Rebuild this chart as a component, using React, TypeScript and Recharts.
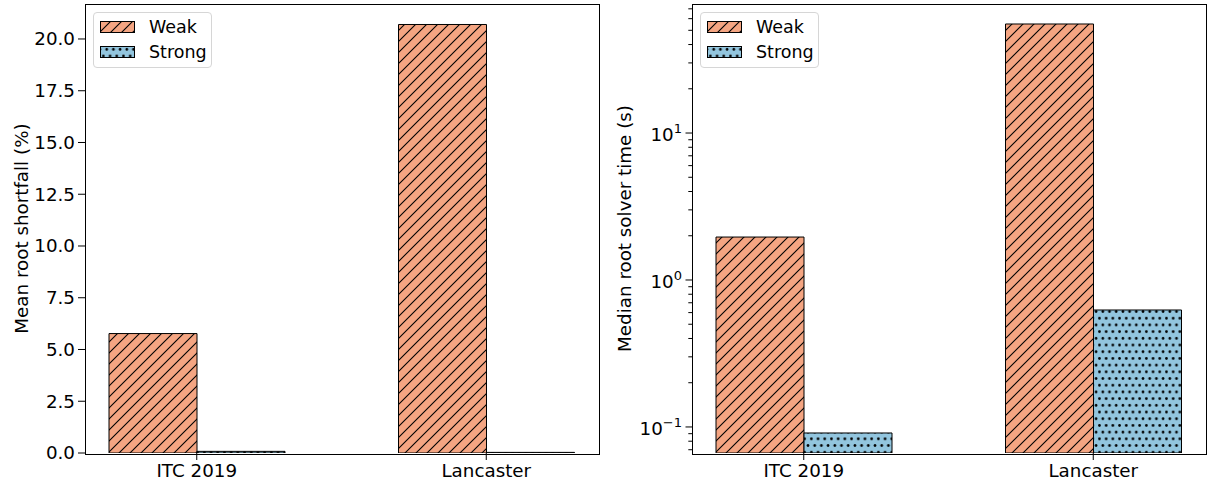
import React from "react";
import { BarChart, Bar, XAxis, YAxis, Legend } from "recharts";

// values
const categories = ["ITC 2019", "Lancaster"];
const seriesNames = ["Weak", "Strong"];
const shortfallWeak = [5.77, 20.7];
const shortfallStrong = [0.08, 0.03];
const solverWeak = [1.96, 55.2];
const solverStrong = [0.091, 0.625];
const shortfallTicks = [0, 2.5, 5, 7.5, 10, 12.5, 15, 17.5, 20];
const solverMajorTicks = [0.1, 1, 10];
const solverMinorTicks = [
  0.07, 0.08, 0.09, 0.2, 0.3, 0.4, 0.5, 0.6, 0.7, 0.8, 0.9,
  2, 3, 4, 5, 6, 7, 8, 9, 20, 30, 40, 50, 60, 70,
];

const WEAK = "#f4a582";
const STRONG = "#92c5de";
const FONT = "DejaVu Sans";
const TICK_FONT = 18.3;
const LEGEND_FONT = 17.5;

const shortfallData = categories.map((name, i) => ({
  name,
  weak: shortfallWeak[i],
  strong: shortfallStrong[i],
}));
const solverData = categories.map((name, i) => ({
  name,
  weak: solverWeak[i],
  strong: solverStrong[i],
}));

const Patterns = ({ id }: { id: string }) => (
  <defs>
    <pattern id={`hatch-${id}`} patternUnits="userSpaceOnUse" width={11} height={11}>
      <rect width={11} height={11} fill={WEAK} />
      <path
        d="M0,11 L11,0 M-2.75,2.75 L2.75,-2.75 M8.25,13.75 L13.75,8.25"
        stroke="#000"
        strokeWidth={1.1}
      />
    </pattern>
    <pattern id={`dots-${id}`} patternUnits="userSpaceOnUse" width={13.4} height={13.4}>
      <rect width={13.4} height={13.4} fill={STRONG} />
      <circle cx={0} cy={3.35} r={1.35} fill="#000" />
      <circle cx={6.7} cy={3.35} r={1.35} fill="#000" />
      <circle cx={13.4} cy={3.35} r={1.35} fill="#000" />
      <circle cx={3.35} cy={10.05} r={1.35} fill="#000" />
      <circle cx={10.05} cy={10.05} r={1.35} fill="#000" />
    </pattern>
  </defs>
);

const Swatch = ({ kind, id }: { kind: "hatch" | "dots"; id: string }) => (
  <svg width={35} height={12} style={{ display: "block" }}>
    <Patterns id={id} />
    <rect x={0.5} y={0.5} width={34} height={11} fill={`url(#${kind}-${id})`} stroke="#000" />
  </svg>
);

const LegendBox = ({ id }: { id: string }) => (
  <div
    style={{
      width: 119,
      height: 56,
      boxSizing: "border-box",
      border: "1px solid #d6d6d6",
      borderRadius: 4,
      background: "rgba(255,255,255,0.8)",
      fontFamily: FONT,
      fontSize: LEGEND_FONT,
      color: "#000",
      padding: "1px 0 0 6px",
    }}
  >
    {seriesNames.map((s, i) => (
      <div key={s} style={{ display: "flex", alignItems: "center", height: 25 }}>
        <Swatch kind={i === 0 ? "hatch" : "dots"} id={`${id}-lg${i}`} />
        <span style={{ marginLeft: 14, lineHeight: "20px" }}>{s}</span>
      </div>
    ))}
  </div>
);

const axisLabel = (text: string, x: number) => () => (
  <text
    x={x}
    y={228.5}
    transform={`rotate(-90, ${x}, 228.5)`}
    textAnchor="middle"
    fontFamily={FONT}
    fontSize={TICK_FONT}
    fill="#000"
  >
    {text}
  </text>
);

const superDigits: Record<string, string> = { "-1": "\u22121", "0": "0", "1": "1" };

const LogTick = (props: any) => {
  const { x, y, payload } = props;
  const v = payload.value as number;
  const major = solverMajorTicks.includes(v);
  const len = major ? 6.5 : 3.7;
  const exp = String(Math.round(Math.log10(v)));
  return (
    <g>
      <line x1={x} x2={x - len} y1={y} y2={y} stroke="#000" strokeWidth={1} />
      {major && (
        <text x={x - 10} y={y} dy="0.45em" textAnchor="end" fontFamily={FONT} fontSize={TICK_FONT} fill="#000">
          10
          <tspan dy={-8} fontSize={13}>{superDigits[exp]}</tspan>
        </text>
      )}
    </g>
  );
};

const frameStyle: React.CSSProperties = {
  position: "absolute",
  left: 84.5,
  top: 3.5,
  width: 513,
  height: 449,
  border: "1px solid #000",
  pointerEvents: "none",
};

const xAxisProps = {
  dataKey: "name",
  height: 33,
  padding: { left: -33, right: -33 },
  tickSize: 7,
  tickMargin: 4,
  axisLine: false,
  tickLine: { stroke: "#000" },
  tick: { fill: "#000", fontSize: TICK_FONT, fontFamily: FONT },
  interval: 0 as const,
};

export default function App() {
  return (
    <div style={{ position: "absolute", left: 0, top: 0, width: 1207, height: 486, background: "#fff" }}>
      <div style={{ position: "absolute", left: 0, top: 0, width: 600, height: 486 }}>
        <BarChart
          width={600}
          height={486}
          data={shortfallData}
          margin={{ top: 4, right: 2, bottom: 0, left: 0 }}
          barGap={0}
        >
          <Patterns id="a" />
          <XAxis {...xAxisProps} />
          <YAxis
            width={85}
            domain={[0, 21.69]}
            allowDataOverflow
            ticks={shortfallTicks}
            interval={0}
            tickFormatter={(v: number) => v.toFixed(1)}
            tickSize={7}
            tickMargin={3}
            axisLine={false}
            tickLine={{ stroke: "#000" }}
            tick={{ fill: "#000", fontSize: TICK_FONT, fontFamily: FONT }}
            label={{ content: axisLabel("Mean root shortfall (%)", 28) }}
          />
          <Legend
            content={() => <LegendBox id="a" />}
            layout="horizontal"
            verticalAlign="middle"
            align="center"
            wrapperStyle={{ left: 93, top: 12, width: 119, height: 56 }}
          />
          <Bar dataKey="weak" name="Weak" fill="url(#hatch-a)" stroke="#000" strokeWidth={1} barSize={88} isAnimationActive={false} />
          <Bar dataKey="strong" name="Strong" fill="url(#dots-a)" stroke="#000" strokeWidth={1} barSize={88} isAnimationActive={false} />
        </BarChart>
        <div style={frameStyle} />
      </div>
      <div style={{ position: "absolute", left: 607, top: 0, width: 600, height: 486 }}>
        <BarChart
          width={600}
          height={486}
          data={solverData}
          margin={{ top: 4, right: 2, bottom: 0, left: 0 }}
          barGap={0}
        >
          <Patterns id="b" />
          <XAxis {...xAxisProps} />
          <YAxis
            width={85}
            scale="log"
            domain={[0.0665, 75.5]}
            allowDataOverflow
            ticks={[...solverMinorTicks, ...solverMajorTicks].sort((p, q) => p - q)}
            interval={0}
            tickSize={0}
            tickMargin={0}
            axisLine={false}
            tickLine={false}
            tick={<LogTick />}
            label={{ content: axisLabel("Median root solver time (s)", 24) }}
          />
          <Legend
            content={() => <LegendBox id="b" />}
            layout="horizontal"
            verticalAlign="middle"
            align="center"
            wrapperStyle={{ left: 93, top: 12, width: 119, height: 56 }}
          />
          <Bar dataKey="weak" name="Weak" fill="url(#hatch-b)" stroke="#000" strokeWidth={1} barSize={88} isAnimationActive={false} />
          <Bar dataKey="strong" name="Strong" fill="url(#dots-b)" stroke="#000" strokeWidth={1} barSize={88} isAnimationActive={false} />
        </BarChart>
        <div style={frameStyle} />
      </div>
    </div>
  );
}
